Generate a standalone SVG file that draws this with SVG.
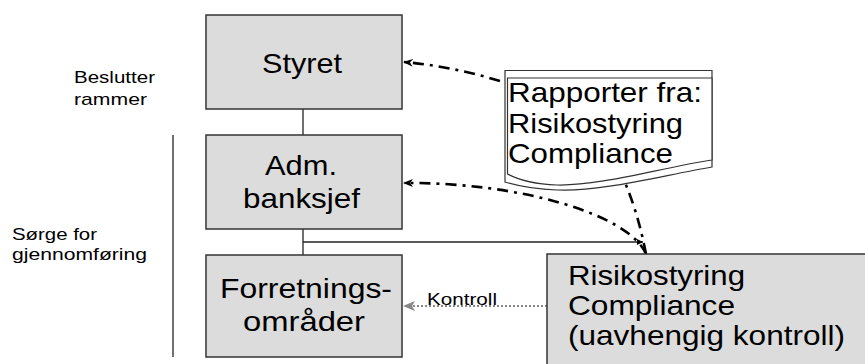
<svg xmlns="http://www.w3.org/2000/svg" width="865" height="364" viewBox="0 0 865 364">
<style>
  text { font-family: "Liberation Sans", Arial, sans-serif; fill: #000; }
  .big { font-size: 28px; }
  .small { font-size: 17px; }
  .box { fill: #dcdcdc; stroke: #333; stroke-width: 1.5; }
  .solid { fill: none; stroke: #222; stroke-width: 1.3; }
  .dashdot { fill: none; stroke: #000; stroke-width: 2.6; stroke-dasharray: 11,6,3,6; }
  .dotted { fill: none; stroke: #888; stroke-width: 2; stroke-dasharray: 2,2; }
  .doc { fill: #fff; stroke: #333; stroke-width: 1.2; }
</style>
<defs>
  <marker id="ah" markerWidth="10" markerHeight="8" refX="9" refY="4" orient="auto" markerUnits="userSpaceOnUse">
    <path d="M0,0 L10,4 L0,8 L3,4 Z" fill="#000"/>
  </marker>
  <marker id="ahg" markerWidth="12" markerHeight="10" refX="11" refY="5" orient="auto" markerUnits="userSpaceOnUse">
    <path d="M0,0 L12,5 L0,10 L3,5 Z" fill="#888"/>
  </marker>
  <marker id="ahs" markerWidth="6" markerHeight="6" refX="6" refY="3" orient="auto" markerUnits="userSpaceOnUse">
    <path d="M0,0 L6,3 L0,6 Z" fill="#000"/>
  </marker>
</defs>

<g id="labels">
  <text class="small" x="74" y="83" textLength="81" lengthAdjust="spacingAndGlyphs">Beslutter</text>
  <text class="small" x="74" y="105" textLength="73" lengthAdjust="spacingAndGlyphs">rammer</text>
  <text class="small" x="12" y="240" textLength="85" lengthAdjust="spacingAndGlyphs">Sørge for</text>
  <text class="small" x="12" y="260" textLength="135" lengthAdjust="spacingAndGlyphs">gjennomføring</text>
  <line x1="173" y1="135" x2="173" y2="357" stroke="#222" stroke-width="1.3"/>
</g>

<g id="connectors">
  <path class="solid" d="M303,109 V135"/>
  <path class="solid" d="M303,229 V255"/>
  <path class="solid" d="M303,242 H643" marker-end="url(#ahs)"/>
  <path class="dashdot" d="M500,81 Q450,66 404,62" marker-end="url(#ah)"/>
  <path class="dashdot" d="M646,254 C630,215 520,182 404,183" marker-end="url(#ah)"/>
  <path class="dashdot" d="M646,254 Q638,212 623,178"/>
  <path class="dotted" d="M547,306 H404" marker-end="url(#ahg)"/>
  <text class="small" x="427" y="305" textLength="70" lengthAdjust="spacingAndGlyphs">Kontroll</text>
</g>

<g id="styret">
  <rect class="box" x="206" y="15" width="196" height="94"/>
  <text class="big" x="262" y="73" textLength="80" lengthAdjust="spacingAndGlyphs">Styret</text>
</g>

<g id="adm">
  <rect class="box" x="206" y="135" width="196" height="94"/>
  <text class="big" x="265" y="175" textLength="72" lengthAdjust="spacingAndGlyphs">Adm.</text>
  <text class="big" x="243" y="208" textLength="117" lengthAdjust="spacingAndGlyphs">banksjef</text>
</g>

<g id="forretning">
  <rect class="box" x="206" y="255" width="196" height="102"/>
  <text class="big" x="220" y="298" textLength="172" lengthAdjust="spacingAndGlyphs">Forretnings-</text>
  <text class="big" x="243" y="331" textLength="122" lengthAdjust="spacingAndGlyphs">områder</text>
</g>

<g id="rapport">
  <path class="doc" d="M505,70.5 H712 V167 C660,176 600,192 557,190 C530,189 515,185 505,182 Z"/>
  <path class="doc" d="M507.5,78 H712 V160 C660,168 600,186 557,185 C530,184 515,178 507.5,174 Z"/>
  <text class="big" x="508" y="102" textLength="194" lengthAdjust="spacingAndGlyphs">Rapporter fra:</text>
  <text class="big" x="508" y="133" textLength="175" lengthAdjust="spacingAndGlyphs">Risikostyring</text>
  <text class="big" x="508" y="163" textLength="165" lengthAdjust="spacingAndGlyphs">Compliance</text>
</g>

<g id="risiko">
  <rect class="box" x="547" y="254" width="330" height="120"/>
  <text class="big" x="568" y="285" textLength="177" lengthAdjust="spacingAndGlyphs">Risikostyring</text>
  <text class="big" x="568" y="315" textLength="167" lengthAdjust="spacingAndGlyphs">Compliance</text>
  <text class="big" x="568" y="345" textLength="277" lengthAdjust="spacingAndGlyphs">(uavhengig kontroll)</text>
</g>
</svg>
